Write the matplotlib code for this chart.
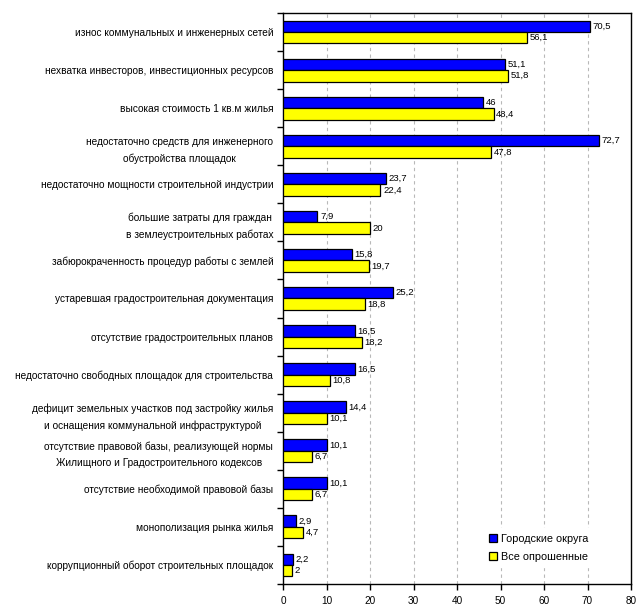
import matplotlib
matplotlib.use("Agg")
import matplotlib.pyplot as plt
import numpy as np

categories = [
    "износ коммунальных и инженерных сетей",
    "нехватка инвесторов, инвестиционных ресурсов",
    "высокая стоимость 1 кв.м жилья",
    "недостаточно средств для инженерного\nобустройства площадок",
    "недостаточно мощности строительной индустрии",
    "большие затраты для граждан\nв землеустроительных работах",
    "забюрокраченность процедур работы с землей",
    "устаревшая градостроительная документация",
    "отсутствие градостроительных планов",
    "недостаточно свободных площадок для строительства",
    "дефицит земельных участков под застройку жилья\nи оснащения коммунальной инфраструктурой",
    "отсутствие правовой базы, реализующей нормы\nЖилищного и Градостроительного кодексов",
    "отсутствие необходимой правовой базы",
    "монополизация рынка жилья",
    "коррупционный оборот строительных площадок",
]
city = [70.5, 51.1, 46, 72.7, 23.7, 7.9, 15.8, 25.2, 16.5, 16.5, 14.4, 10.1, 10.1, 2.9, 2.2]
all_resp = [56.1, 51.8, 48.4, 47.8, 22.4, 20, 19.7, 18.8, 18.2, 10.8, 10.1, 6.7, 6.7, 4.7, 2]
series_names = ["Городские округа", "Все опрошенные"]
xticks = [0, 10, 20, 30, 40, 50, 60, 70, 80]

plt.rcParams['font.family'] = ['Liberation Sans', 'DejaVu Sans']

fig = plt.figure(figsize=(6.42, 6.11), dpi=100)
ax = fig.add_axes([283/642, 1 - 584/611, (631-283)/642, (584-13)/611])

n = len(categories)
y = np.arange(n)
h = 0.3
b1 = ax.barh(y - h/2, city, height=h, color="#0000FF", edgecolor="black", linewidth=0.9, label=series_names[0], zorder=3)
b2 = ax.barh(y + h/2, all_resp, height=h, color="#FFFF00", edgecolor="black", linewidth=0.9, label=series_names[1], zorder=3)

def fmt(v):
    s = ("%g" % v).replace(".", ",")
    return s

for bars, vals in ((b1, city), (b2, all_resp)):
    for rect, v in zip(bars, vals):
        ax.text(v + 0.6, rect.get_y() + rect.get_height()/2, fmt(v), va="center", ha="left",
                fontsize=6.8, zorder=4)

ax.set_ylim(n - 0.5, -0.5)
ax.set_xlim(0, 80)
ax.set_xticks(xticks)
ax.set_xticklabels([str(t) for t in xticks], fontsize=7.2)
ax.set_yticks(y)
ax.set_yticklabels(categories, fontsize=7.3, multialignment="center", linespacing=1.75)
ax.set_yticks(np.arange(-0.5, n, 1), minor=True)
ax.tick_params(axis="y", which="major", length=0, pad=7)
ax.tick_params(axis="y", which="minor", length=4, width=1, direction="out")
ax.tick_params(axis="x", length=4, width=1, direction="out", pad=5)

for t in xticks[1:-1]:
    ax.axvline(t, color="#b8b8b8", linestyle=(0, (3, 3)), linewidth=0.8, zorder=1)

for s in ax.spines.values():
    s.set_linewidth(1.0)
    s.set_color("black")

leg = ax.legend(loc="lower left", bbox_to_anchor=(0.56, 0.02), frameon=True, fontsize=7.8,
                handlelength=0.8, handleheight=0.8, handletextpad=0.3, borderpad=0.5,
                labelspacing=0.75, fancybox=False)
leg.get_frame().set_edgecolor("white")
leg.get_frame().set_facecolor("white")
leg.get_frame().set_alpha(1)
leg.set_zorder(5)

fig.savefig("out.png", dpi=100)
